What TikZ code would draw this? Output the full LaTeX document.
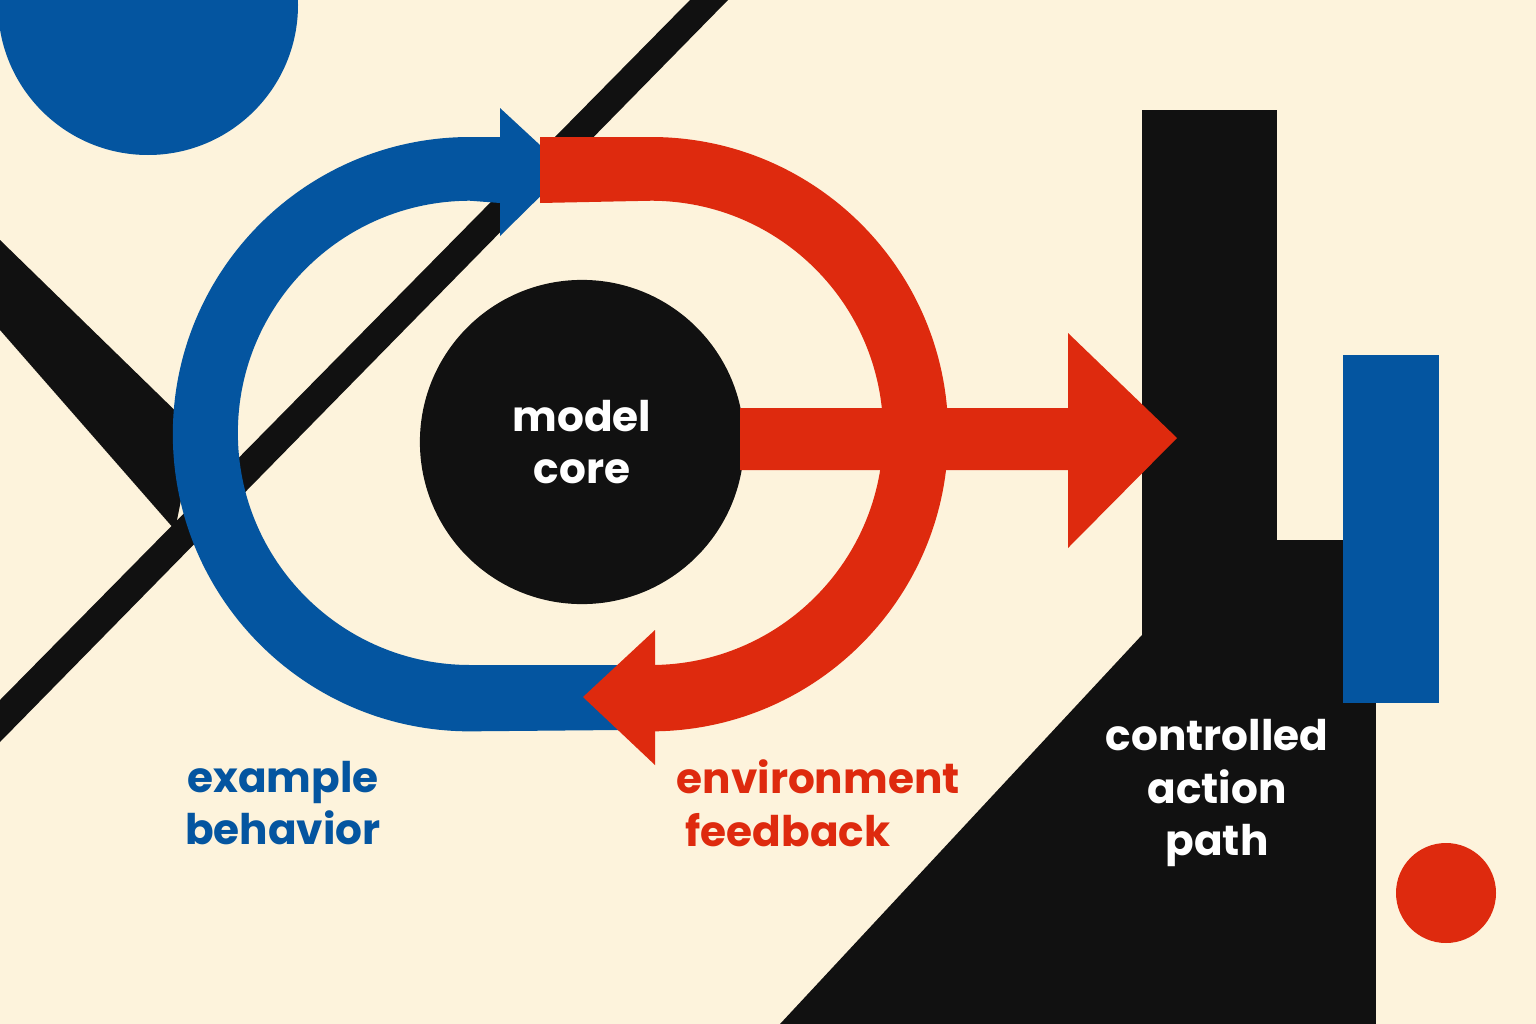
\documentclass[tikz,border=0pt]{standalone}
\usepackage{fontspec}
\setmainfont{Poppins}
\usetikzlibrary{positioning}
\definecolor{cream}{HTML}{FDF3DC}
\definecolor{bblue}{HTML}{0455A0}
\definecolor{bred}{HTML}{DE2A0E}
\definecolor{bblack}{HTML}{111111}
\begin{document}
\begin{tikzpicture}[
    x=0.01cm, y=-0.01cm,
    label text/.style={font=\fontsize{12}{15}\selectfont\bfseries, align=center, inner sep=0pt},
]
    % --- background ---
    \fill[cream] (0,0) rectangle (1536,1024);
    \useasboundingbox (0,0) rectangle (1536,1024);

    % --- blue disc, top left ---
    \fill[bblue] (148,5) circle (150);

    % --- black diagonals ---
    \fill[bblack] (0,240) -- (195,430) -- (175,530) -- (0,330) -- cycle;
    \fill[bblack] (690,0) -- (728,0) -- (0,742) -- (0,700) -- cycle;

    % --- blue ring, left half ---
    \fill[bblue] (500,137) -- (470,137) arc[start angle=90, end angle=270, radius=2.97cm]
        -- (620,730) -- (620,665)
        -- (470,665) arc[start angle=270, end angle=90, radius=2.32cm] -- (500,203) -- cycle;
    \fill[bblue] (500,108) -- (567,170) -- (500,236) -- cycle;

    % --- red ring, right half ---
    \fill[bred] (540,137) -- (651,137) arc[start angle=90, end angle=-90, radius=2.97cm]
        -- (655,730) -- (655,665)
        -- (651,665) arc[start angle=-90, end angle=90, radius=2.32cm] -- (540,203) -- cycle;
    \fill[bred] (655,630) -- (583,697) -- (655,765) -- cycle;

    % --- core ---
    \node[circle, fill=bblack, minimum size=3.24cm, inner sep=0pt] (core) at (582,442) {};
    \node[label text, text=white] (coretext) at (core) {model\\core};

    % --- black tower ---
    \fill[bblack] (1142,110) rectangle (1277,1024);
    \fill[bblack] (1142,540) rectangle (1376,1024);
    \fill[bblack] (1142,635) -- (1142,1024) -- (780,1024) -- cycle;

    % --- red arrow to the right ---
    \fill[bred] (740,408) -- (1068,408) -- (1068,333) -- (1177,438) -- (1068,548)
        -- (1068,470) -- (740,470) -- cycle;

    % --- blue bar and red dot ---
    \fill[bblue] (1343,355) rectangle (1439,703);
    \fill[bred] (1446,893) circle (50);

    % --- labels ---
    \node[label text, text=bblue] (example) at (283,803) {example\\behavior};
    \node[label text, text=bred, align=left, anchor=west] (feedback) at (676,803) {environment\\\ feedback};
    \node[label text, text=white] (action) at (1217,793) {controlled\\action\\path};
\end{tikzpicture}
\end{document}
